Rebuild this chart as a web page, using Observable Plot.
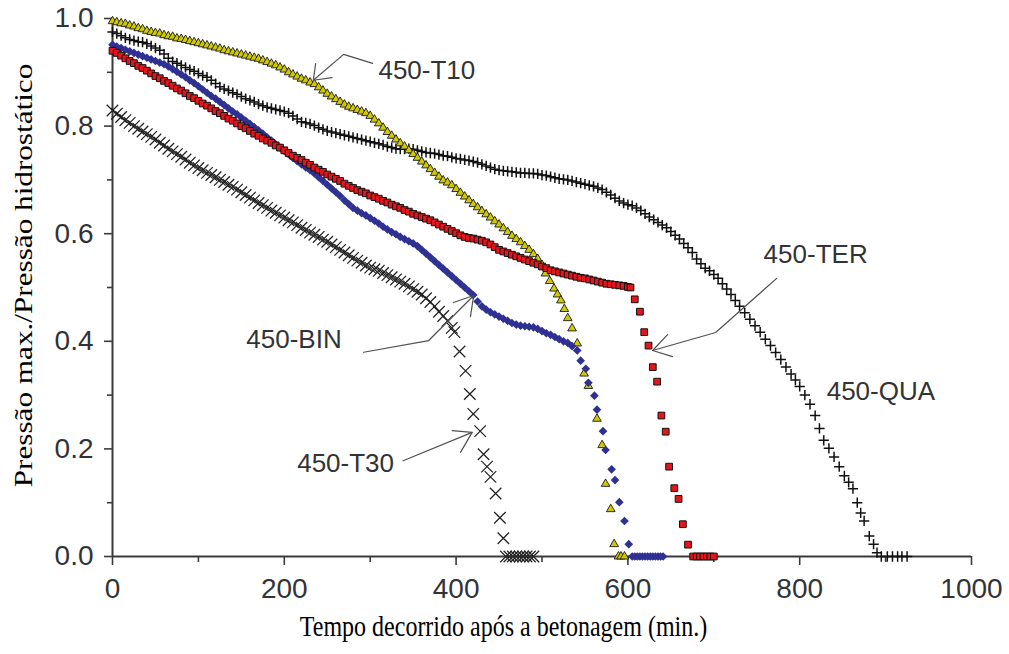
<!DOCTYPE html>
<html><head><meta charset="utf-8">
<script src="https://cdn.jsdelivr.net/npm/d3@7"></script>
<script src="https://cdn.jsdelivr.net/npm/@observablehq/plot@0.6"></script>
<style>body{margin:0;background:#fff}</style>
</head><body><div id="chart"></div>
<script>
// ---- axes / titles ----
const xTicks = [0, 200, 400, 600, 800, 1000];
const xMinorTicks = [100, 300, 500, 700, 900];
const yTicks = [0, 0.2, 0.4, 0.6, 0.8, 1.0];
const yMinorTicks = [0.1, 0.3, 0.5, 0.7, 0.9];
const xTitle = "Tempo decorrido após a betonagem (min.)";
const yTitle = "Pressão max./Pressão hidrostático";

// ---- series: [time (min), pressure ratio] ----
const s450T10 = [[0,.995],[5,.993],[10,.991],[15,.990],[20,.987],[25,.985],[30,.982],[35,.980],[40,.977],[45,.975],[50,.973],[55,.972],[60,.969],[65,.967],[70,.966],[75,.963],[80,.962],[85,.960],[90,.958],[95,.956],[100,.954],[105,.952],[110,.950],[115,.948],[120,.946],[125,.944],[130,.941],[135,.939],[140,.937],[145,.935],[150,.933],[155,.931],[160,.929],[165,.927],[170,.925],[175,.922],[180,.919],[185,.916],[190,.913],[195,.909],[200,.905],[205,.900],[210,.896],[215,.892],[220,.888],[225,.885],[230,.881],[235,.878],[240,.872],[245,.866],[250,.860],[255,.855],[260,.850],[265,.845],[270,.840],[275,.836],[280,.833],[285,.830],[290,.827],[295,.824],[300,.819],[305,.812],[310,.805],[315,.797],[320,.789],[325,.782],[330,.775],[335,.768],[340,.762],[345,.755],[350,.748],[355,.741],[360,.734],[365,.727],[370,.720],[375,.713],[380,.706],[385,.699],[390,.695],[395,.690],[400,.683],[405,.676],[410,.669],[415,.662],[420,.655],[425,.649],[430,.642],[435,.636],[440,.630],[445,.623],[450,.617],[455,.610],[460,.603],[465,.596],[470,.590],[475,.584],[480,.577],[485,.570],[490,.562],[495,.553],[500,.542],[504,.526],[509,.512],[514,.498],[518,.487],[522,.476],[526,.460],[530,.443],[535,.424],[541,.396],[549,.340],[554,.317],[564,.256],[570,.207],[574,.135],[580,.088],[584,.023],[589,0],[592,0],[596,0]];

const s450QUA = [[0,.975],[5,.972],[10,.968],[15,.964],[20,.961],[25,.959],[30,.957],[35,.956],[40,.953],[45,.949],[50,.945],[55,.941],[60,.934],[65,.926],[70,.920],[75,.917],[80,.913],[85,.909],[90,.905],[95,.902],[100,.898],[105,.894],[110,.891],[115,.885],[120,.879],[125,.873],[130,.869],[135,.866],[140,.862],[145,.859],[150,.855],[155,.851],[160,.848],[165,.845],[170,.841],[175,.838],[180,.835],[185,.833],[190,.831],[195,.829],[200,.827],[205,.824],[210,.819],[215,.813],[220,.808],[225,.806],[230,.804],[235,.801],[240,.797],[245,.794],[250,.791],[255,.789],[260,.787],[265,.785],[270,.783],[275,.781],[280,.779],[285,.777],[290,.775],[295,.773],[300,.771],[305,.769],[310,.767],[315,.765],[320,.762],[325,.760],[330,.758],[335,.757],[340,.757],[345,.758],[350,.757],[355,.755],[360,.753],[365,.751],[370,.750],[375,.749],[380,.747],[385,.745],[390,.744],[395,.742],[400,.740],[405,.739],[410,.737],[415,.736],[420,.734],[425,.732],[430,.729],[435,.726],[440,.723],[445,.720],[450,.718],[455,.717],[460,.716],[465,.715],[470,.714],[475,.713],[480,.713],[485,.712],[490,.712],[495,.711],[500,.709],[505,.708],[510,.706],[515,.704],[520,.702],[525,.701],[530,.700],[535,.698],[540,.696],[545,.694],[550,.692],[555,.690],[560,.688],[565,.685],[570,.682],[575,.677],[580,.672],[585,.666],[590,.661],[595,.657],[600,.654],[605,.652],[610,.648],[615,.643],[620,.637],[625,.631],[630,.626],[635,.621],[640,.616],[645,.611],[650,.604],[655,.597],[660,.590],[665,.582],[670,.574],[675,.565],[680,.553],[685,.544],[690,.536],[695,.531],[700,.524],[705,.517],[710,.507],[715,.497],[720,.487],[725,.476],[730,.465],[736,.453],[742,.441],[748,.429],[754,.417],[760,.404],[766,.392],[772,.379],[778,.366],[784,.352],[790,.339],[795,.328],[800,.316],[806,.300],[812,.283],[818,.262],[823,.238],[828,.216],[834,.201],[840,.185],[846,.167],[852,.150],[857,.138],[862,.126],[867,.100],[871,.081],[875,.066],[881,.038],[886,.023],[890,.007],[895,0],[902,0],[908,0],[914,0],[919,0],[925,0]];

const s450TER = [[0,.940],[5,.936],[10,.931],[15,.926],[20,.921],[25,.917],[30,.912],[35,.908],[40,.903],[45,.898],[50,.893],[55,.889],[60,.884],[65,.880],[70,.875],[75,.870],[80,.866],[85,.861],[90,.856],[95,.852],[100,.847],[105,.842],[110,.838],[115,.833],[120,.828],[125,.824],[130,.819],[135,.814],[140,.810],[145,.805],[150,.800],[155,.796],[160,.791],[165,.786],[170,.782],[175,.777],[180,.773],[185,.769],[190,.764],[195,.760],[200,.755],[205,.750],[210,.745],[215,.741],[220,.737],[225,.732],[230,.728],[235,.723],[240,.719],[245,.715],[250,.710],[255,.706],[260,.702],[265,.698],[270,.693],[275,.689],[280,.685],[285,.681],[290,.678],[295,.675],[300,.671],[305,.668],[310,.665],[315,.661],[320,.658],[325,.654],[330,.651],[335,.648],[340,.644],[345,.641],[350,.637],[355,.634],[360,.631],[365,.628],[370,.625],[375,.621],[380,.617],[385,.613],[390,.609],[395,.605],[400,.601],[405,.597],[410,.594],[415,.592],[420,.591],[425,.589],[430,.587],[435,.584],[440,.580],[445,.575],[450,.570],[455,.567],[460,.564],[465,.561],[470,.558],[475,.555],[480,.552],[485,.549],[490,.546],[495,.543],[500,.539],[505,.536],[510,.532],[515,.530],[520,.528],[525,.526],[530,.524],[535,.522],[540,.520],[545,.518],[550,.517],[555,.515],[560,.513],[565,.511],[570,.509],[575,.507],[580,.506],[585,.505],[590,.504],[595,.503],[600,.501],[603,.500],[608,.478],[614,.455],[619,.417],[624,.392],[629,.352],[634,.325],[639,.262],[644,.232],[648,.167],[654,.127],[659,.107],[664,.060],[670,.022],[676,0],[680,0],[684,0],[688,0],[692,0],[696,0],[700,0]];

const s450BIN = [[0,.951],[5,.948],[10,.945],[15,.942],[20,.939],[25,.936],[30,.933],[35,.930],[40,.927],[45,.924],[50,.921],[55,.918],[60,.915],[65,.911],[70,.906],[75,.901],[80,.896],[85,.891],[90,.885],[95,.880],[100,.874],[105,.868],[110,.862],[115,.856],[120,.851],[125,.845],[130,.839],[135,.833],[140,.827],[145,.822],[150,.816],[155,.810],[160,.804],[165,.798],[170,.792],[175,.786],[180,.779],[185,.773],[190,.766],[195,.760],[200,.754],[205,.748],[210,.741],[215,.735],[220,.729],[225,.723],[230,.718],[235,.712],[240,.705],[245,.698],[250,.691],[255,.684],[260,.677],[265,.670],[270,.662],[275,.655],[280,.648],[285,.643],[290,.638],[295,.634],[300,.629],[305,.624],[310,.619],[315,.613],[320,.608],[325,.603],[330,.599],[335,.594],[340,.590],[345,.586],[350,.582],[355,.577],[360,.570],[365,.563],[370,.556],[375,.549],[380,.542],[385,.535],[390,.528],[395,.521],[400,.514],[405,.507],[410,.500],[415,.493],[420,.486],[425,.474],[430,.465],[435,.459],[440,.454],[445,.450],[450,.446],[455,.442],[460,.438],[465,.434],[470,.431],[475,.429],[480,.428],[485,.427],[490,.426],[495,.423],[500,.419],[505,.415],[510,.412],[515,.408],[520,.404],[525,.400],[530,.397],[535,.391],[541,.383],[545,.364],[551,.349],[554,.323],[561,.299],[564,.273],[571,.233],[574,.198],[581,.162],[585,.142],[590,.101],[596,.066],[601,.023],[605,0],[608,0],[611,0],[614,0],[617,0],[620,0],[623,0],[626,0],[629,0],[632,0],[635,0],[638,0],[641,0]];

const s450T30 = [[0,.829],[5,.823],[10,.817],[15,.811],[20,.806],[25,.800],[30,.795],[35,.790],[40,.785],[45,.780],[50,.775],[55,.769],[60,.764],[65,.758],[70,.753],[75,.748],[80,.743],[85,.738],[90,.732],[95,.727],[100,.722],[105,.718],[110,.713],[115,.709],[120,.705],[125,.700],[130,.696],[135,.691],[140,.687],[145,.682],[150,.677],[155,.672],[160,.667],[165,.662],[170,.657],[175,.653],[180,.648],[185,.643],[190,.639],[195,.634],[200,.630],[205,.625],[210,.621],[215,.616],[220,.611],[225,.607],[230,.602],[235,.598],[240,.594],[245,.589],[250,.585],[255,.580],[260,.575],[265,.570],[270,.565],[275,.560],[280,.555],[285,.550],[290,.546],[295,.541],[300,.537],[305,.534],[310,.531],[315,.527],[320,.523],[325,.519],[330,.515],[335,.511],[340,.507],[345,.502],[350,.497],[355,.492],[360,.487],[365,.480],[370,.473],[375,.465],[380,.455],[385,.447],[390,.438],[395,.425],[398,.417],[404,.381],[411,.345],[416,.302],[420,.265],[428,.233],[432,.190],[436,.167],[440,.148],[446,.117],[451,.072],[455,.034],[458,0],[462,0],[466,0],[470,0],[474,0],[478,0],[482,0],[486,0],[490,0]];

// ---- annotations (data coordinates) ----
const seriesLabels = [
  {name: "450-T10", t: 309.6, p: 0.887},
  {name: "450-TER", t: 758.0, p: 0.545},
  {name: "450-QUA", t: 831.4, p: 0.290},
  {name: "450-BIN", t: 155.8, p: 0.388},
  {name: "450-T30", t: 215.0, p: 0.157}
];
const leaderLines = [
  {id: "T10", t: 302.9, p: 0.9165}, {id: "T10", t: 269.1, p: 0.9333}, {id: "T10", t: 233.8, p: 0.8852},
  {id: "TER", t: 773.2, p: 0.5169}, {id: "TER", t: 702.2, p: 0.4164}, {id: "TER", t: 628.8, p: 0.3829},
  {id: "BIN", t: 292.4, p: 0.3796}, {id: "BIN", t: 368.1, p: 0.4014}, {id: "BIN", t: 420.5, p: 0.4851},
  {id: "T30", t: 338.3, p: 0.1781}, {id: "T30", t: 418.7, p: 0.2307}
];
const arrowHeads = [
  {id: "T10", t: 236.5, p: 0.9163}, {id: "T10", t: 233.8, p: 0.8852}, {id: "T10", t: 255.6, p: 0.8900},
  {id: "TER", t: 646.2, p: 0.4125}, {id: "TER", t: 628.8, p: 0.3829}, {id: "TER", t: 652.0, p: 0.3716},
  {id: "BIN", t: 396.9, p: 0.4721}, {id: "BIN", t: 420.5, p: 0.4851}, {id: "BIN", t: 416.7, p: 0.4460},
  {id: "T30", t: 395.4, p: 0.2339}, {id: "T30", t: 418.7, p: 0.2307}, {id: "T30", t: 405.1, p: 0.1935}
];

const sans = "'Liberation Sans', Arial, sans-serif";
const serif = "'Liberation Serif', 'Times New Roman', serif";
const axisColor = "#3a3a3a";
const X = d => d[0], Y = d => d[1];

const chart = Plot.plot({
  width: 1009,
  height: 654,
  marginLeft: 112,
  marginRight: 38,
  marginTop: 18,
  marginBottom: 98,
  style: {background: "#fff", color: "#333", fontFamily: sans},
  x: {domain: [0, 1000]},
  y: {domain: [0, 1]},
  marks: [
    Plot.axisX({ticks: xTicks, tickSize: 9, tickPadding: 13, fontSize: 28, fontFamily: sans, tickFormat: d => String(d), label: null, strokeWidth: 1.6, stroke: axisColor}),
    Plot.axisX({ticks: xMinorTicks, tickSize: 6, tickFormat: () => "", label: null, strokeWidth: 1.6, stroke: axisColor}),
    Plot.axisY({ticks: yTicks, tickSize: 8, tickPadding: 11, fontSize: 28, fontFamily: sans, tickFormat: d3.format(".1f"), label: null, strokeWidth: 1.6, stroke: axisColor}),
    Plot.axisY({ticks: yMinorTicks, tickSize: 5, tickFormat: () => "", label: null, strokeWidth: 1.6, stroke: axisColor}),
    Plot.ruleY([0], {stroke: axisColor, strokeWidth: 2}),
    Plot.ruleX([0], {y1: 0, y2: 1, stroke: axisColor, strokeWidth: 2}),

    Plot.dot(s450QUA, {x: X, y: Y, symbol: "plus", r: 3.4, stroke: "#111", strokeWidth: 1.5, fill: "none"}),
    Plot.dot(s450T10, {x: X, y: Y, symbol: "triangle", r: 3.2, fill: "#d0c800", stroke: "#1a1a1a", strokeWidth: 0.9}),
    Plot.dot(s450BIN, {x: X, y: Y, symbol: "diamond2", r: 3.9, fill: "#2e3192", stroke: "none"}),
    Plot.dot(s450TER, {x: X, y: Y, symbol: "square", r: 3.8, fill: "#e5151b", stroke: "#111", strokeWidth: 1}),
    Plot.dot(s450T30, {x: X, y: Y, symbol: "times", r: 5.3, stroke: "#222", strokeWidth: 1.25}),

    Plot.line(leaderLines, {x: "t", y: "p", z: "id", stroke: "#505050", strokeWidth: 1.2}),
    Plot.line(arrowHeads, {x: "t", y: "p", z: "id", stroke: "#505050", strokeWidth: 1.2}),
    Plot.text(seriesLabels, {x: "t", y: "p", text: "name", textAnchor: "start", lineAnchor: "bottom", fontSize: 26, fontFamily: sans, fill: "#333"}),

    Plot.text([xTitle], {text: d => d, frameAnchor: "bottom", textAnchor: "middle", dx: -38.5, dy: 79, fontSize: 24, fontFamily: serif, fill: "#000"}),
    Plot.text([yTitle], {text: d => d, frameAnchor: "left", textAnchor: "middle", rotate: -90, dx: -88.5, dy: -12, fontSize: 26, fontFamily: serif, fill: "#000"})
  ]
});
document.getElementById("chart").appendChild(chart);

// stretch the serif titles as in the reference
chart.querySelectorAll("text").forEach(el => {
  const tr = el.getAttribute("transform");
  if (!tr) return;
  if (el.textContent === yTitle) el.setAttribute("transform", tr + " scale(1.2,1)");
  if (el.textContent === xTitle) el.setAttribute("transform", tr + " scale(1,1.2)");
});
</script>
</body></html>
